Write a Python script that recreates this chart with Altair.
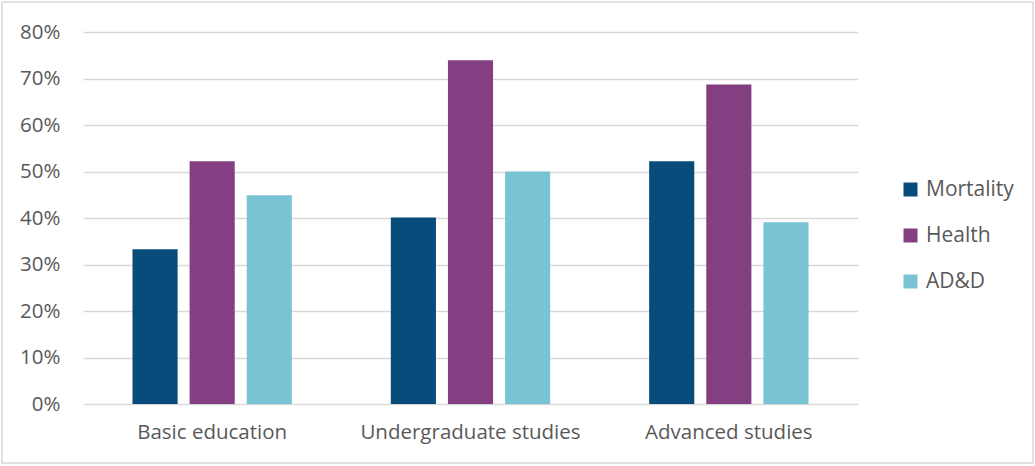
import altair as alt
import pandas as pd

# Share of respondents by education level and coverage type
levels = ["Basic education", "Undergraduate studies", "Advanced studies"]
series = ["Mortality", "Health", "AD&D"]
mortality = [0.333, 0.401, 0.522]
health = [0.522, 0.739, 0.687]
add = [0.449, 0.500, 0.391]
y_ticks = [0, 0.1, 0.2, 0.3, 0.4, 0.5, 0.6, 0.7, 0.8]

colors = ["#074C7A", "#833F82", "#79C4D4"]

rows = []
for i, lvl in enumerate(levels):
    for name, vals in zip(series, [mortality, health, add]):
        rows.append({"level": lvl, "series": name, "value": vals[i]})
df = pd.DataFrame(rows)

FONT = "Open Sans"
TEXT = "#595959"
GRID = "#d9d9d9"

bars = alt.Chart(df).mark_bar().encode(
    x=alt.X(
        "level:N",
        sort=levels,
        title=None,
        scale=alt.Scale(paddingInner=0, paddingOuter=0),
        axis=alt.Axis(
            labelAngle=0,
            ticks=False,
            domain=False,
            labelPadding=18,
            labelFontSize=20.5,
            labelColor=TEXT,
            labelFont=FONT,
            labelLimit=400,
        ),
    ),
    xOffset=alt.XOffset(
        "series:N",
        sort=series,
        scale=alt.Scale(paddingInner=0.21, paddingOuter=0.866),
    ),
    y=alt.Y(
        "value:Q",
        title=None,
        scale=alt.Scale(domain=[0, 0.8], nice=False),
        axis=alt.Axis(
            values=y_ticks,
            format=".0%",
            domain=False,
            ticks=False,
            labelPadding=23,
            labelFontSize=20.5,
            labelColor=TEXT,
            labelFont=FONT,
            gridColor=GRID,
            gridWidth=1.4,
        ),
    ),
    color=alt.Color(
        "series:N",
        sort=series,
        scale=alt.Scale(domain=series, range=colors),
        legend=alt.Legend(
            title=None,
            orient="none",
            legendX=817,
            legendY=147,
            symbolType="square",
            symbolSize=196,
            symbolStrokeWidth=0,
            symbolOpacity=1,
            labelFontSize=21,
            labelFont=FONT,
            labelColor=TEXT,
            labelOffset=5,
            rowPadding=24,
        ),
    ),
)

# Light border framing the whole figure
frame = alt.Chart(pd.DataFrame({"k": [0]})).mark_rect(
    fill=None, stroke="#d9d9d9", strokeWidth=1.5
).encode(
    x=alt.value(-81),
    x2=alt.value(950),
    y=alt.value(-30),
    y2=alt.value(431),
)

chart = alt.layer(bars, frame).properties(
    width=775,
    height=372,
    autosize=alt.AutoSizeParams(type="none"),
    padding={"left": 83, "top": 32, "right": 177, "bottom": 62},
    background="white",
).configure_view(stroke=None)

chart.save("out.html", embed_options={"renderer": "svg", "actions": False})
